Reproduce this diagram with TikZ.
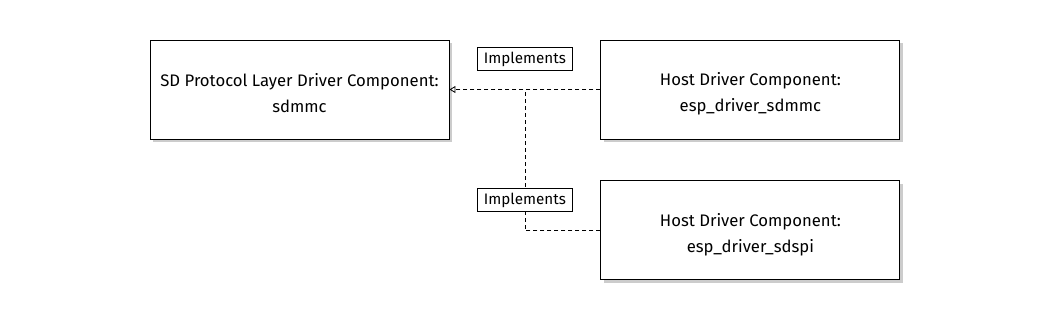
\documentclass[tikz,border=0pt]{standalone}
\usepackage{fontspec}
\setmainfont{Fira Sans}
\usepackage{tikz}
\usetikzlibrary{calc,positioning,arrows.meta,shadows}
\tikzset{
  comp/.style={rectangle,draw=black,line width=0.9pt,fill=white,minimum width=299pt,minimum height=99pt,align=center,text height=47pt,font=\fontsize{16.7}{26}\selectfont,drop shadow={shadow xshift=3pt,shadow yshift=-3pt,fill=black!40}},
  tag/.style={rectangle,draw=black,line width=0.8pt,fill=white,minimum width=95pt,minimum height=23pt,inner sep=0pt,font=\fontsize{15.2}{16}\selectfont},
  real/.style={dash pattern=on 4pt off 3pt,line width=0.8pt,black},
  realtip/.style={real,-{Triangle[open,length=6pt,width=7pt]}},
}

\begin{document}
\begin{tikzpicture}[x=1pt,y=-1pt,node distance=41pt and 151pt]
  \useasboundingbox (0,0) rectangle (1050,320);
  \node[comp] (proto) at (299.5,89.5) {SD Protocol Layer Driver Component:\\sdmmc};
  \node[comp,right=151pt of proto] (mmc) {Host Driver Component:\\esp\_driver\_sdmmc};
  \node[comp,below=41pt of mmc] (spi) {Host Driver Component:\\esp\_driver\_sdspi};
  \coordinate (jn) at ($(proto.east)!0.5!(mmc.west)$);
  \coordinate (bend) at (spi.west -| jn);
  \draw[realtip] (mmc.west) -- (proto.east);
  \draw[real] (spi.west) -- (bend) -- (jn);
  \node[tag,above=18.5pt of jn] (t1) {Implements};
  \node[tag,above=18.5pt of bend] (t2) {Implements};
\end{tikzpicture}
\end{document}
